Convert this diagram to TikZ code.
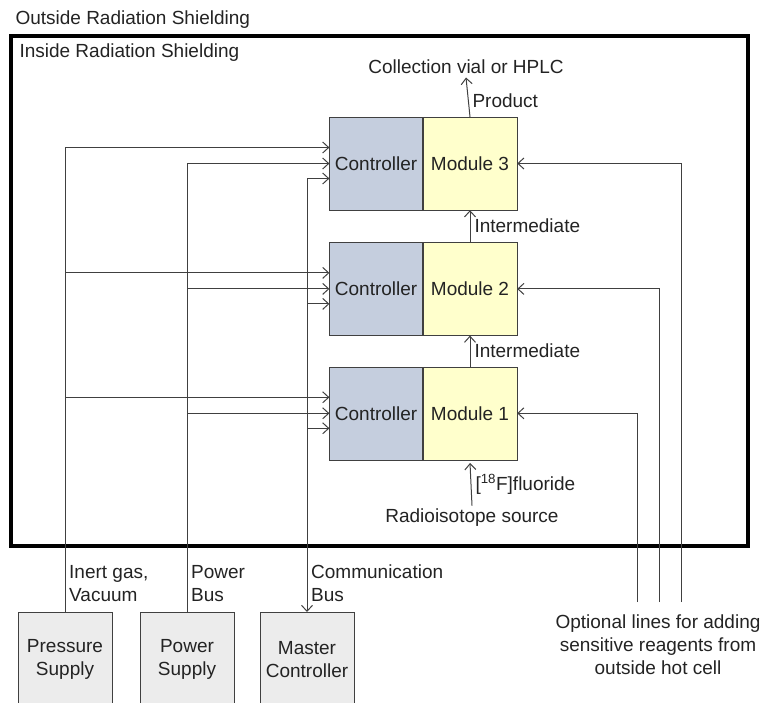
\documentclass[tikz,border=0pt]{standalone}
\usepackage{fontspec}
\setmainfont{Liberation Sans}
\usetikzlibrary{positioning, arrows.meta}
\definecolor{ctrlColor}{RGB}{197, 206, 222}
\definecolor{modColor}{RGB}{255, 255, 204}
\definecolor{supplyColor}{RGB}{236, 236, 236}
\definecolor{lineColor}{RGB}{64, 64, 64}
\definecolor{textColor}{RGB}{35, 35, 35}

\begin{document}
\begin{tikzpicture}[
        x=1pt, y=-1pt,
        node distance=32pt,
        every node/.style={
            font=\fontsize{19}{23}\selectfont,
            text=textColor
        },
        modulo/.style={
            rectangle,
            draw=lineColor,
            fill=modColor,
            minimum width=94pt,
            minimum height=93pt,
            inner sep=0pt
        },
        control/.style={
            rectangle,
            draw=lineColor,
            fill=ctrlColor,
            minimum width=93pt,
            minimum height=93pt,
            inner sep=0pt
        },
        supply/.style={
            rectangle,
            draw=lineColor,
            fill=supplyColor,
            minimum width=94pt,
            minimum height=94pt,
            align=center,
            anchor=north
        },
        etiqueta/.style={
            align=left,
            anchor=west,
            inner sep=1pt
        },
        flecha/.style={
            -{Straight Barb[length=6pt, width=11pt]},
            draw=lineColor,
            line width=1pt
        },
        doble/.style={
            {Straight Barb[length=6pt, width=11pt]}-{Straight Barb[length=6pt, width=11pt]},
            draw=lineColor,
            line width=1pt
        }
    ]
        \useasboundingbox (0,0) rectangle (763,703);

        % shielding
        \draw[line width=3.5pt] (11,36) rectangle (748,546);
        \node[anchor=west] (outside) at (12,20) {Outside Radiation Shielding};
        \node[anchor=west] (inside) at (16,53) {Inside Radiation Shielding};

        % modules
        \node[modulo] (mod3) at (470,163.5) {Module 3};
        \node[modulo, below=of mod3] (mod2) {Module 2};
        \node[modulo, below=31pt of mod2] (mod1) {Module 1};
        \foreach \i in {1,2,3} {
            \node[control, left=0pt of mod\i] (ctrl\i) {Controller};
            \coordinate (pin\i) at ([yshift=16pt]ctrl\i.west);
            \coordinate (bin\i) at (ctrl\i.west);
            \coordinate (cin\i) at ([yshift=-15pt]ctrl\i.west);
        }

        % supplies
        \node[supply] (pres) at (65,612) {Pressure\\Supply};
        \node[supply] (pow) at (187,612) {Power\\Supply};
        \node[supply] (mast) at (307,612) {Master\\Controller};

        \node[etiqueta] (gas) at (68,583.5) {Inert gas,\\Vacuum};
        \node[etiqueta] (bus) at (190,583.5) {Power\\Bus};
        \node[etiqueta] (comm) at (310,583.5) {Communication\\Bus};

        % lines into controllers
        \draw[flecha] (pres.north) |- (pin3);
        \draw[flecha] (pow.north) |- (bin3);
        \draw[doble] (mast.north) |- (cin3);
        \foreach \i in {1,2} {
            \draw[flecha] (pres.north |- pin\i) -- (pin\i);
            \draw[flecha] (pow.north |- bin\i) -- (bin\i);
            \draw[flecha] (mast.north |- cin\i) -- (cin\i);
        }

        % product flow
        \node (vial) at (466,67) {Collection vial or HPLC};
        \node (src) at (472,518) {Radioisotope source};
        \draw[flecha] (mod3.north) -- (vial.south)
            node[midway, right, yshift=-4pt, inner sep=4pt] {Product};
        \draw[flecha] (mod2.north) -- (mod3.south)
            node[midway, right, inner sep=4pt] {Intermediate};
        \draw[flecha] (mod1.north) -- (mod2.south)
            node[midway, right, inner sep=4pt] {Intermediate};
        \draw[flecha] (src.north) -- ([yshift=-3pt]mod1.south)
            node[midway, right, inner sep=4pt] {[\textsuperscript{18}F]fluoride};

        % optional reagent lines
        \node[align=center] (opt) at (658,645)
            {Optional lines for adding\\sensitive reagents from\\outside hot cell};
        \coordinate (o1) at (637,602);
        \coordinate (o2) at (659,602);
        \coordinate (o3) at (681,602);
        \draw[flecha] (o1) |- (mod1.east);
        \draw[flecha] (o2) |- (mod2.east);
        \draw[flecha] (o3) |- (mod3.east);

    \end{tikzpicture}
\end{document}
